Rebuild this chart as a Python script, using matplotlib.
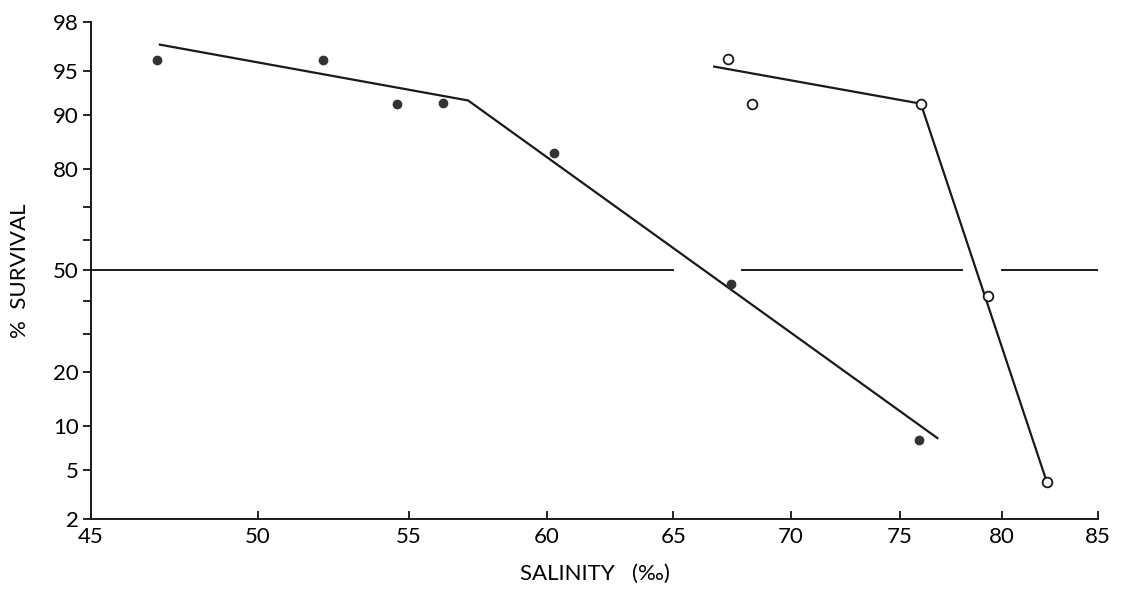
import math
import numpy as np
import matplotlib
matplotlib.use("Agg")
import matplotlib.pyplot as plt
from matplotlib.ticker import FixedLocator, FixedFormatter, NullLocator

# filled circles
salinity_a = [46.9, 52.1, 54.6, 56.2, 60.3, 67.4, 75.9]
survival_a = [95.9, 95.9, 91.6, 91.7, 83.5, 45.7, 8.0]
fit_a_x = [47.0, 57.1, 76.8]
fit_a_y = [96.9, 92.0, 8.3]

# open circles
salinity_b = [67.3, 68.3, 76.0, 79.3, 82.3]
survival_b = [96.0, 91.6, 91.5, 41.5, 4.0]
fit_b_x = [66.7, 76.0, 82.3]
fit_b_y = [95.4, 91.6, 4.0]

# 50 % reference line, drawn in pieces
ref_segments = [(45.0, 65.0), (67.9, 78.0), (80.0, 85.0)]

x_ticks = [45, 50, 55, 60, 65, 70, 75, 80, 85]
y_ticks = [2, 5, 10, 20, 50, 80, 90, 95, 98]
y_minor = [30, 40, 60, 70]

# probit scale: percent <-> normal deviate
_z = np.linspace(-6, 6, 4001)
_cdf = np.array([0.5 * (1 + math.erf(v / math.sqrt(2))) for v in _z])


def to_probit(p):
    p = np.asarray(p, dtype=float) / 100.0
    return np.interp(p, _cdf, _z)


def from_probit(z):
    z = np.asarray(z, dtype=float)
    return np.interp(z, _z, _cdf) * 100.0


plt.rcParams["font.family"] = ["Lato", "DejaVu Sans"]

fig = plt.figure(figsize=(11.21, 6.02), dpi=100)
ax = fig.add_axes([0.0812, 0.1379, 0.8983, 0.8256])

ax.set_xscale("log")
ax.set_yscale("function", functions=(to_probit, from_probit))
ax.set_xlim(45, 85)
ax.set_ylim(2, 98)

for x0, x1 in ref_segments:
    ax.plot([x0, x1], [50, 50], color="#1a1a1a", lw=1.4)

ax.plot(fit_a_x, fit_a_y, color="#1a1a1a", lw=1.6)
ax.plot(fit_b_x, fit_b_y, color="#1a1a1a", lw=1.6)
ax.plot(salinity_a, survival_a, "o", color="#333333", ms=6, mec="#333333", zorder=3)
ax.plot(salinity_b, survival_b, "o", mfc="white", mec="#1a1a1a", mew=1.3, ms=7, zorder=3)

ax.xaxis.set_major_locator(FixedLocator(x_ticks))
ax.xaxis.set_major_formatter(FixedFormatter([str(t) for t in x_ticks]))
ax.xaxis.set_minor_locator(NullLocator())
ax.yaxis.set_major_locator(FixedLocator(y_ticks))
ax.yaxis.set_major_formatter(FixedFormatter([str(t) for t in y_ticks]))
ax.yaxis.set_minor_locator(FixedLocator(y_minor))

ax.tick_params(axis="x", direction="in", length=6, width=1.2, labelsize=16, pad=6)
ax.tick_params(axis="y", direction="out", length=6, width=1.2, labelsize=16, pad=3)
ax.tick_params(axis="y", which="minor", direction="out", length=6, width=1.2)

for s in ("top", "right"):
    ax.spines[s].set_visible(False)
for s in ("left", "bottom"):
    ax.spines[s].set_linewidth(1.4)
    ax.spines[s].set_color("#1a1a1a")

ax.set_xlabel("SALINITY   (‰)", fontsize=16, labelpad=12)
ax.set_ylabel("%  SURVIVAL", fontsize=16, labelpad=16)

fig.savefig("out.png", dpi=100)
